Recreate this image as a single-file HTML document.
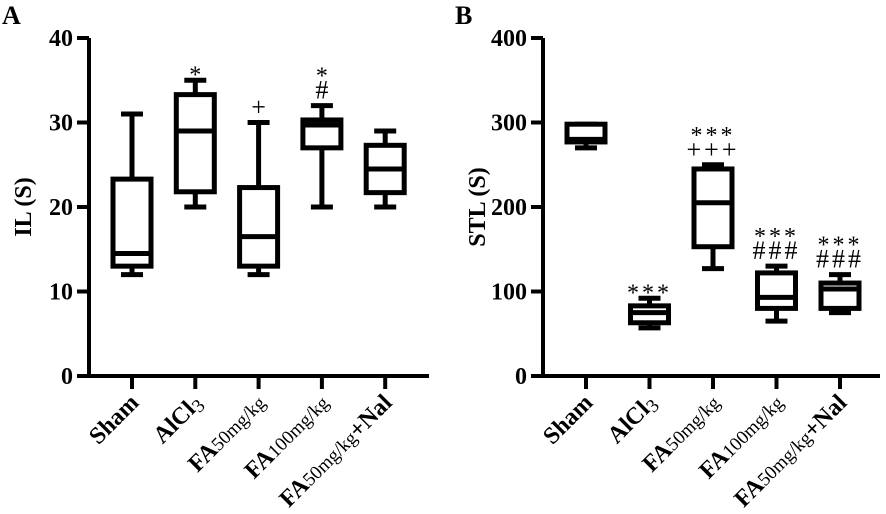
<!DOCTYPE html>
<html><head><meta charset="utf-8"><style>
html,body{margin:0;padding:0;background:#fff;}
svg{display:block;font-family:"Liberation Serif",serif;}
</style></head><body>
<svg id="chart" width="886" height="514" viewBox="0 0 886 514"></svg>
<script>
const categories = ["Sham","AlCl3","FA50","FA100","FA50Nal"];
const ilMax = [31,35,30,32,29];
const ilQ3 = [23.3,33.3,22.3,30.3,27.3];
const ilMed = [14.5,29,16.5,29.7,24.5];
const ilQ1 = [13,21.8,13,27,21.7];
const ilMin = [12,20,12,20,20];
const ilTicks = [0,10,20,30,40];
const ilAnn = [[],["*"],["+"],["*","#"],[]];
const stlMax = [298,92,250,130,120];
const stlQ3 = [298,83,245,122,110];
const stlMed = [280,75,205,93,103];
const stlQ1 = [277,63,153,80,80];
const stlMin = [270,57,127,65,75];
const stlTicks = [0,100,200,300,400];
const stlAnn = [[],["***"],["***","+++"],["***","###"],["***","###"]];

const NS="http://www.w3.org/2000/svg";
const svg=document.getElementById('chart');
function mk(tag,attrs,parent){const e=document.createElementNS(NS,tag);for(const k in attrs)e.setAttribute(k,attrs[k]);(parent||svg).appendChild(e);return e;}

function panel(cfg){
  const g=mk('g',{});
  
  
  const y=v=>cfg.y0-(v/cfg.ymax)*(cfg.y0-cfg.ytop);
  const x=i=>cfg.x0+i*cfg.step;
  const L=mk('text',{x:cfg.lx,y:24,'font-size':26,'font-weight':'bold'},g);L.textContent=cfg.letter;
  
  
  const ax=mk('path',{d:`M${cfg.ax},${cfg.ytop} V${cfg.y0} H${cfg.xend}`,stroke:'#000','stroke-width':4,fill:'none'},g);
  
  
  cfg.ticks.forEach(t=>{
    mk('line',{x1:cfg.ax-12,x2:cfg.ax,y1:y(t),y2:y(t),stroke:'#000','stroke-width':4},g);
    const tt=mk('text',{x:cfg.ax-16,y:y(t)+8,'font-size':24,'font-weight':'bold','text-anchor':'end'},g);
    tt.textContent=t;
    
    
  });
  const yt=mk('text',{transform:`translate(${cfg.ax-58},${(cfg.ytop+cfg.y0)/2}) rotate(-90)`,'font-size':24,'font-weight':'bold','text-anchor':'middle'},g);
  yt.textContent=cfg.ytitle;
  
  
  const hw=19;
  categories.forEach((c,i)=>{
    const cx=x(i);
    mk('line',{x1:cx,x2:cx,y1:cfg.y0,y2:cfg.y0+13,stroke:'#000','stroke-width':4},g);
    const bg=mk('g',{stroke:'#000','stroke-width':5,fill:'none'},g);
    
    
    mk('line',{x1:cx,x2:cx,y1:y(cfg.max[i]),y2:y(cfg.q3[i]),stroke:'#000'},bg);
    mk('line',{x1:cx,x2:cx,y1:y(cfg.q1[i]),y2:y(cfg.min[i]),stroke:'#000'},bg);
    mk('line',{x1:cx-11,x2:cx+11,y1:y(cfg.max[i]),y2:y(cfg.max[i])},bg);
    mk('line',{x1:cx-11,x2:cx+11,y1:y(cfg.min[i]),y2:y(cfg.min[i])},bg);
    mk('rect',{x:cx-hw,y:y(cfg.q3[i]),width:2*hw,height:y(cfg.q1[i])-y(cfg.q3[i]),fill:'#fff'},bg);
    mk('line',{x1:cx-hw,x2:cx+hw,y1:y(cfg.med[i]),y2:y(cfg.med[i])},bg);
    const ann=cfg.ann[i];
    ann.forEach((a,k)=>{
      const ty=y(cfg.max[i])-7-(ann.length-1-k)*24;
      const star=a.includes('*');
      const t=mk('text',{x:cx,y:ty+(star?9:0),'font-size':star?24:26,'text-anchor':'middle','letter-spacing':a.length>1?'3':'0'},g);
      t.textContent=a;
      
      
    });
    const lab=mk('text',{transform:`translate(${cx+8},${cfg.y0+28}) rotate(-45)`,'font-size':24,'font-weight':'bold','text-anchor':'end'},g);
    
    
    const sub=(s)=>'<tspan font-weight="normal" font-size="19">'+s+'</tspan>';
    const html={Sham:'Sham',AlCl3:'AlCl'+'<tspan font-weight="normal" font-size="19" dy="4">3</tspan>',FA50:'FA'+sub('50mg/kg'),FA100:'FA'+sub('100mg/kg'),FA50Nal:'FA'+sub('50mg/kg')+'+Nal'}[c];
    lab.innerHTML=html;
  });
}
panel({name:'panel-a-il',letter:'A',lx:2,ax:89,x0:132,step:63.3,xend:429,y0:376,ytop:38,ymax:40,ticks:ilTicks,ytitle:'IL (S)',max:ilMax,q3:ilQ3,med:ilMed,q1:ilQ1,min:ilMin,ann:ilAnn});
panel({name:'panel-b-stl',letter:'B',lx:455,ax:543,x0:586,step:63.5,xend:880,y0:376,ytop:38,ymax:400,ticks:stlTicks,ytitle:'STL (S)',max:stlMax,q3:stlQ3,med:stlMed,q1:stlQ1,min:stlMin,ann:stlAnn});
</script>
</body></html>
